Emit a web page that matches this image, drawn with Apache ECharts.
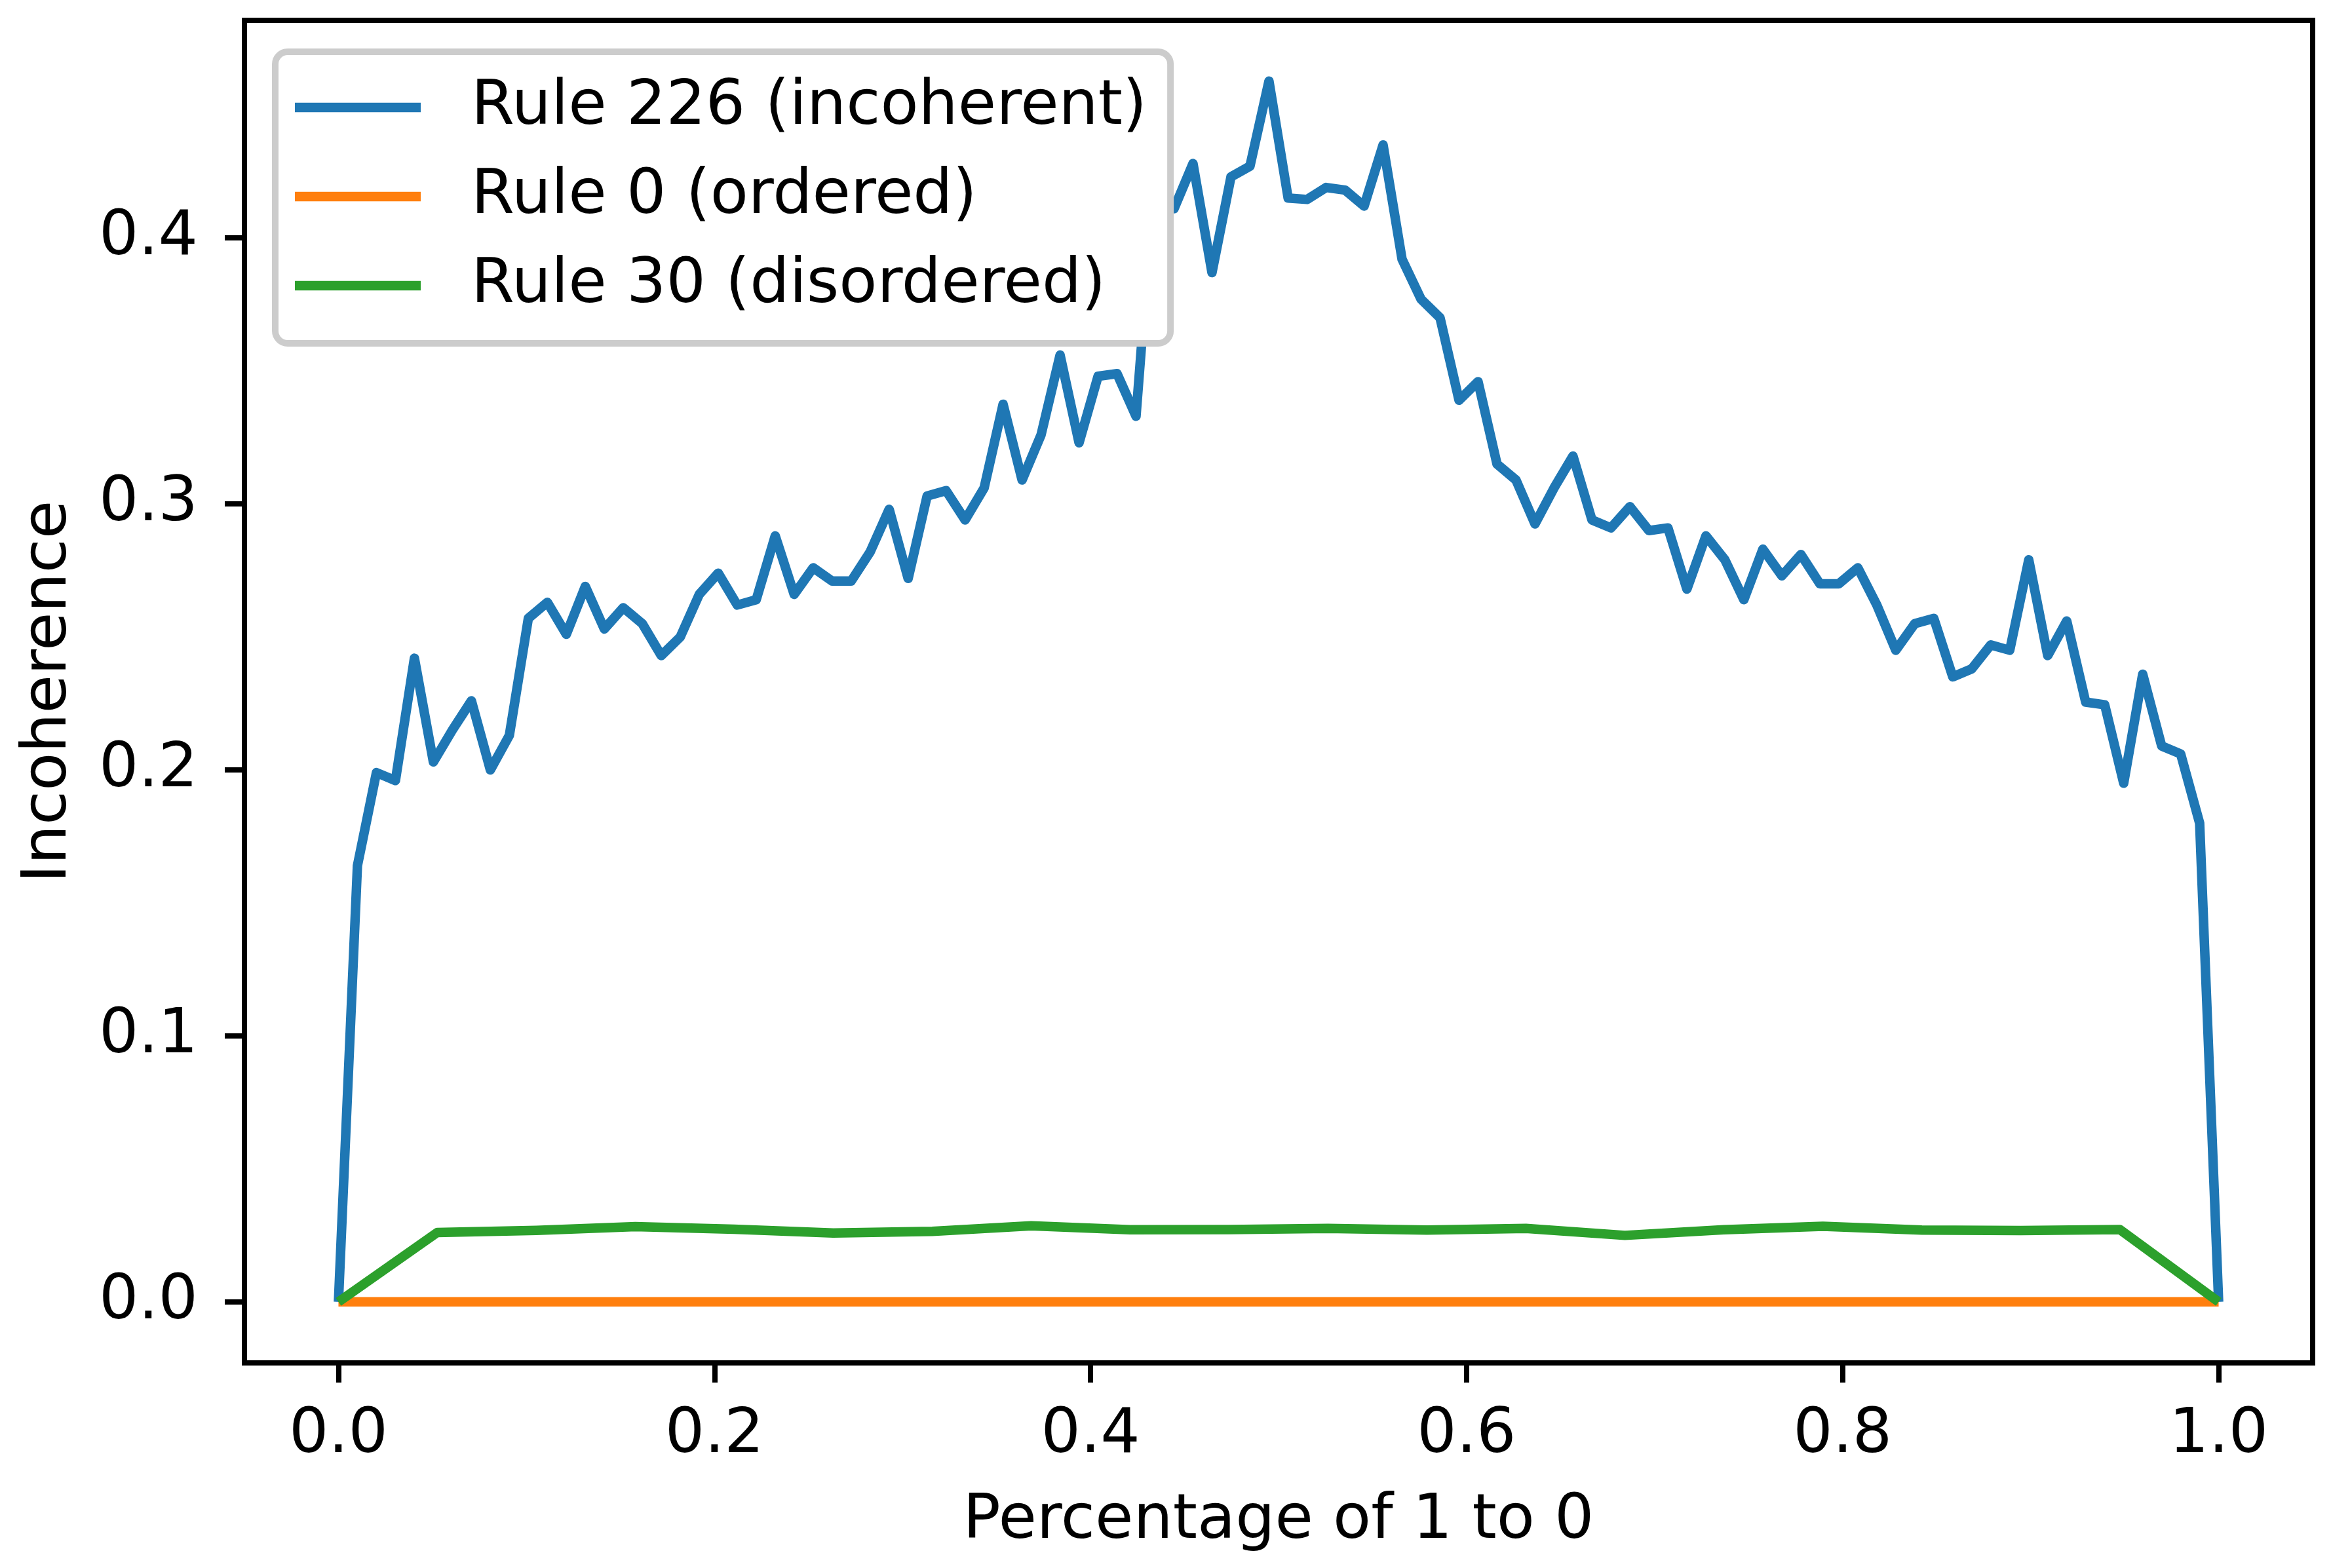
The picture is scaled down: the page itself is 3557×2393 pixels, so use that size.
<!DOCTYPE html>
<html>
<head>
<meta charset="utf-8">
<script src="https://cdn.jsdelivr.net/npm/echarts@6/dist/echarts.min.js"></script>
<style>
html,body{margin:0;padding:0;background:#fff;}
#chart{width:3557px;height:2393px;}
</style>
</head>
<body>
<div id="chart"></div>
<script>
// x positions (fraction of 1 to 0)
const xRule226 = [
0.0000,0.0101,0.0202,0.0303,0.0404,0.0505,0.0606,0.0707,0.0808,0.0909,
0.1010,0.1111,0.1212,0.1313,0.1414,0.1515,0.1616,0.1717,0.1818,0.1919,
0.2020,0.2121,0.2222,0.2323,0.2424,0.2525,0.2626,0.2727,0.2828,0.2929,
0.3030,0.3131,0.3232,0.3333,0.3434,0.3535,0.3636,0.3737,0.3838,0.3939,
0.4040,0.4141,0.4242,0.4343,0.4444,0.4545,0.4646,0.4747,0.4848,0.4949,
0.5051,0.5152,0.5253,0.5354,0.5455,0.5556,0.5657,0.5758,0.5859,0.5960,
0.6061,0.6162,0.6263,0.6364,0.6465,0.6566,0.6667,0.6768,0.6869,0.6970,
0.7071,0.7172,0.7273,0.7374,0.7475,0.7576,0.7677,0.7778,0.7879,0.7980,
0.8081,0.8182,0.8283,0.8384,0.8485,0.8586,0.8687,0.8788,0.8889,0.8990,
0.9091,0.9192,0.9293,0.9394,0.9495,0.9596,0.9697,0.9798,0.9899,1.0000];
const yRule226 = [
0,0.164,0.199,0.196,0.242,0.203,0.215,0.226,0.200,0.213,
0.257,0.263,0.251,0.269,0.253,0.261,0.255,0.243,0.250,0.266,
0.274,0.262,0.264,0.288,0.266,0.276,0.271,0.271,0.282,0.298,
0.272,0.303,0.305,0.294,0.306,0.3375,0.309,0.326,0.356,0.323,
0.348,0.349,0.333,0.425,0.411,0.428,0.387,0.423,0.427,0.459,
0.415,0.4145,0.419,0.418,0.412,0.435,0.392,0.377,0.370,0.339,
0.346,0.315,0.309,0.2925,0.306,0.318,0.294,0.291,0.299,0.290,
0.291,0.268,0.288,0.279,0.264,0.283,0.273,0.281,0.270,0.270,
0.276,0.262,0.245,0.255,0.257,0.235,0.238,0.247,0.245,0.279,
0.243,0.256,0.2255,0.2245,0.195,0.236,0.209,0.206,0.180,0];

const xCoarse = [0,0.0526,0.1053,0.1579,0.2105,0.2632,0.3158,0.3684,0.4211,0.4737,
0.5263,0.5789,0.6316,0.6842,0.7368,0.7895,0.8421,0.8947,0.9474,1.0];
const yRule0 = [0,0,0,0,0,0,0,0,0,0,0,0,0,0,0,0,0,0,0,0];
const yRule30 = [0,0.0261,0.0269,0.0283,0.0273,0.0259,0.0265,0.0286,0.0271,0.0272,
0.0276,0.0270,0.0276,0.0250,0.0271,0.0284,0.0270,0.0268,0.0272,0];

const xTicks = [0,0.2,0.4,0.6,0.8,1.0];
const yTicks = [0,0.1,0.2,0.3,0.4];
const seriesNames = ['Rule 226 (incoherent)','Rule 0 (ordered)','Rule 30 (disordered)'];
const colors = ['#1f77b4','#ff7f0e','#2ca02c'];

const pair = (xs, ys) => xs.map((x, i) => [x, ys[i]]);
const FONT = 'DejaVu Sans';
const FS = 95;

const chart = echarts.init(document.getElementById('chart'), null, {renderer:'canvas'});
const mkSeries = (name, data, color) => ({
  name, type:'line', data, showSymbol:false, symbol:'none', animation:false,
  lineStyle:{color, width:14.5, join:'round', cap:'butt'},
  itemStyle:{color}, clip:true
});
chart.setOption({
  animation:false,
  backgroundColor:'#ffffff',
  color:colors,
  grid:{left:373, top:31, width:3156, height:2049, show:true, borderColor:'#000', borderWidth:8, backgroundColor:'transparent'},
  xAxis:{
    type:'value', min:-0.05, max:1.05,
    name:'Percentage of 1 to 0', nameLocation:'middle', nameGap:195,
    nameTextStyle:{fontFamily:FONT, fontSize:FS, color:'#000'},
    axisLine:{show:false, onZero:false},
    axisTick:{show:true, inside:false, length:30, lineStyle:{color:'#000', width:8}, customValues:xTicks},
    axisLabel:{show:true, margin:64, fontFamily:FONT, fontSize:FS, color:'#000', customValues:xTicks,
      formatter:v=>v.toFixed(1)},
    splitLine:{show:false}
  },
  yAxis:{
    type:'value', min:-0.02295, max:0.48185,
    name:'Incoherence', nameLocation:'middle', nameGap:250,
    nameTextStyle:{fontFamily:FONT, fontSize:FS, color:'#000'},
    axisLine:{show:false, onZero:false},
    axisTick:{show:true, inside:false, length:30, lineStyle:{color:'#000', width:8}, customValues:yTicks},
    axisLabel:{show:true, margin:71, fontFamily:FONT, fontSize:FS, color:'#000', customValues:yTicks,
      formatter:v=>v.toFixed(1)},
    splitLine:{show:false}
  },
  legend:{
    orient:'vertical', left:420, top:79,
    padding:[37,36,40,30], itemGap:40,
    itemWidth:192, itemHeight:14.5,
    backgroundColor:'#ffffff', borderColor:'#cccccc', borderWidth:10, borderRadius:19,
    data:seriesNames.map((n,i)=>({name:n, icon:'rect', itemStyle:{color:colors[i]}})),
    textStyle:{fontFamily:FONT, fontSize:FS, color:'#000', lineHeight:96, padding:[0,0,0,72]},
    selectedMode:false
  },
  series:[
    mkSeries(seriesNames[0], pair(xRule226, yRule226), colors[0]),
    mkSeries(seriesNames[1], pair(xCoarse, yRule0), colors[1]),
    mkSeries(seriesNames[2], pair(xCoarse, yRule30), colors[2])
  ]
});
</script>
</body>
</html>
